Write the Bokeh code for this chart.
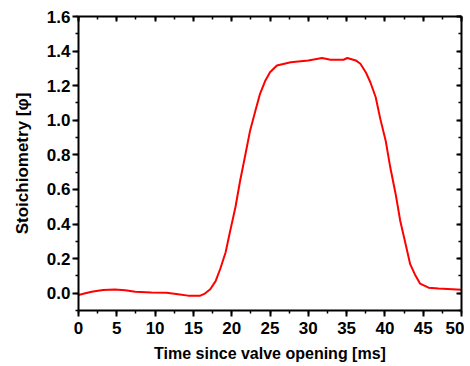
from bokeh.plotting import figure
from bokeh.models import LinearAxis, SingleIntervalTicker, CustomJSTickFormatter, NumeralTickFormatter
from bokeh.embed import file_html
from bokeh.resources import INLINE

time_ms = [0, 0.5, 1.3, 1.9, 3.2, 4.75, 6.1, 7.4, 9.5, 11.5, 13.0, 14.3, 15.9, 16.5,
           17.2, 17.9, 18.5, 19.2, 19.8, 20.5, 21.1, 21.8, 22.4, 23.1, 23.7, 24.4,
           25.0, 25.9, 27.7, 30.0, 31.8, 32.9, 34.6, 35.1, 36.2, 36.8, 37.5, 38.1,
           38.8, 39.4, 40.1, 40.7, 41.4, 42.0, 42.7, 43.3, 43.9, 44.6, 45.7, 47.0, 50.0]
phi = [-0.01, -0.005, 0.004, 0.01, 0.019, 0.021, 0.017, 0.008, 0.004, 0.002, -0.006,
       -0.014, -0.014, -0.002, 0.023, 0.07, 0.14, 0.235, 0.36, 0.50, 0.65, 0.805, 0.94,
       1.056, 1.153, 1.23, 1.278, 1.317, 1.336, 1.346, 1.36, 1.35, 1.35, 1.36, 1.346,
       1.327, 1.278, 1.22, 1.133, 1.008, 0.882, 0.728, 0.574, 0.419, 0.284, 0.168,
       0.11, 0.055, 0.032, 0.027, 0.02]

FONT = "Liberation Sans"

p = figure(width=464, height=366, x_range=(0, 50), y_range=(-0.1, 1.6),
           output_backend="svg", toolbar_location=None,
           min_border_left=78, min_border_top=16, min_border_right=3, min_border_bottom=56)
p.xgrid.visible = False
p.ygrid.visible = False
p.outline_line_color = None
p.background_fill_color = "white"
p.border_fill_color = "white"

p.line(time_ms, phi, line_color="#ff0000", line_width=2)

def style(ax, inside):
    ax.axis_line_width = 2
    ax.major_tick_line_width = 2
    ax.minor_tick_line_width = 1.5
    ax.major_label_text_font = FONT
    ax.major_label_text_font_style = "bold"
    ax.major_label_text_font_size = "17px"
    ax.major_label_text_color = "black"
    ax.axis_label_text_font = FONT
    ax.axis_label_text_font_style = "bold"
    ax.axis_label_text_font_size = "16px"
    ax.axis_label_text_color = "black"
    if inside:
        ax.major_tick_in = 5
        ax.major_tick_out = 0
        ax.minor_tick_in = 3
        ax.minor_tick_out = 0
        ax.formatter = CustomJSTickFormatter(code="return ''")
        ax.major_label_standoff = 0
    else:
        ax.major_tick_in = 0
        ax.major_tick_out = 6
        ax.minor_tick_in = 0
        ax.minor_tick_out = 3

xa = p.xaxis[0]
xa.ticker = SingleIntervalTicker(interval=5, num_minor_ticks=2)
xa.formatter = NumeralTickFormatter(format="0")
xa.axis_label = "Time since valve opening [ms]"
style(xa, False)
xa.major_label_standoff = 5
xa.axis_label_standoff = 8

ya = p.yaxis[0]
ya.ticker = SingleIntervalTicker(interval=0.2, num_minor_ticks=2)
ya.formatter = NumeralTickFormatter(format="0.0")
ya.axis_label = "Stoichiometry [φ]"
style(ya, False)
ya.axis_label_text_font_size = "17px"
ya.major_label_standoff = 2
ya.axis_label_standoff = 12

top = LinearAxis(ticker=SingleIntervalTicker(interval=5, num_minor_ticks=2))
style(top, True)
p.add_layout(top, "above")
right = LinearAxis(ticker=SingleIntervalTicker(interval=0.2, num_minor_ticks=2))
style(right, True)
p.add_layout(right, "right")

open("out.html", "w").write(file_html(p, INLINE))
